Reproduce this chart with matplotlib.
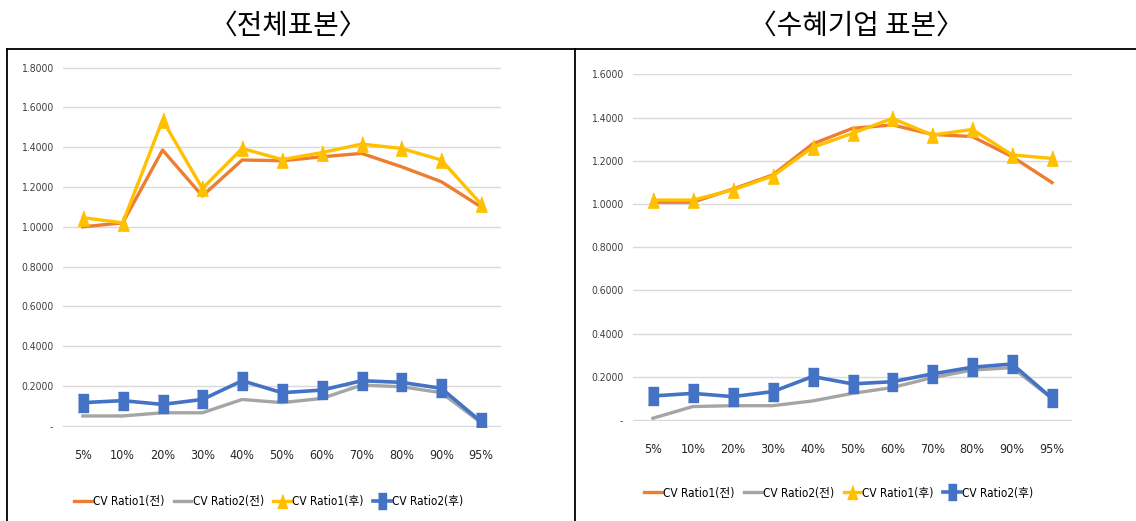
import numpy as np
import matplotlib
matplotlib.use("Agg")
import matplotlib.pyplot as plt
from matplotlib.lines import Line2D

# kategorie (percentyle) wspolne dla obu wykresow
categories = ["5%", "10%", "20%", "30%", "40%", "50%", "60%", "70%", "80%", "90%", "95%"]
series_names = ["CV Ratio1(전)", "CV Ratio2(전)", "CV Ratio1(후)", "CV Ratio2(후)"]

# <전체표본>
all_ratio1_before = [1.00, 1.02, 1.386, 1.155, 1.336, 1.332, 1.352, 1.369, 1.302, 1.227, 1.10]
all_ratio2_before = [0.049, 0.049, 0.065, 0.065, 0.132, 0.116, 0.137, 0.204, 0.196, 0.166, 0.015]
all_ratio1_after = [1.046, 1.02, 1.537, 1.193, 1.394, 1.338, 1.373, 1.416, 1.394, 1.336, 1.114]
all_ratio2_after = [0.116, 0.126, 0.107, 0.132, 0.226, 0.166, 0.179, 0.226, 0.218, 0.188, 0.02]

# <수혜기업 표본>
ben_ratio1_before = [1.008, 1.008, 1.069, 1.134, 1.278, 1.350, 1.366, 1.322, 1.312, 1.219, 1.099]
ben_ratio2_before = [0.008, 0.062, 0.066, 0.066, 0.088, 0.123, 0.150, 0.196, 0.231, 0.242, 0.10]
ben_ratio1_after = [1.018, 1.018, 1.065, 1.129, 1.262, 1.327, 1.396, 1.319, 1.345, 1.227, 1.211]
ben_ratio2_after = [0.111, 0.123, 0.108, 0.131, 0.201, 0.167, 0.177, 0.213, 0.244, 0.259, 0.100]

NARROW = ["DejaVu Sans"]
KOREAN = ["DejaVu Sans", "Noto Sans CJK KR"]

ORANGE = "#ED7D31"
GRAY = "#A5A5A5"
YELLOW = "#FFC000"
BLUE = "#4472C4"

# wysokie (rozciagniete) znaczniki jak w oryginalnym obrazku
tri = [(-0.72, -1.0), (0.72, -1.0), (0.0, 1.0)]
rect = [(-0.55, -1.0), (0.55, -1.0), (0.55, 1.0), (-0.55, 1.0)]


def draw_panel(fig, rect_ax, ymax, r1b, r2b, r1a, r2a, legend_y):
    '''
    rysuje jeden panel z czterema seriami i legenda pod spodem
    '''
    ax = fig.add_axes(rect_ax)
    x = np.arange(len(categories))
    ax.plot(x, r1b, color=ORANGE, lw=2.4, zorder=3)
    ax.plot(x, r2b, color=GRAY, lw=2.4, zorder=3)
    ax.plot(x, r1a, color=YELLOW, lw=2.4, marker=tri, markersize=11, zorder=4)
    ax.plot(x, r2a, color=BLUE, lw=2.6, marker=rect, markersize=12.5, zorder=4)

    ax.set_xlim(-0.5, len(categories) - 0.5)
    # maly zapas, zeby linia siatki przy zerze nie byla obcieta
    ax.set_ylim(-0.004, ymax + 0.004)
    ticks = np.arange(0, ymax + 0.001, 0.2)
    ax.set_yticks(ticks)
    ax.set_yticklabels(["-"] + ["%.4f" % t for t in ticks[1:]])
    ax.set_xticks(x)
    ax.set_xticklabels(categories)
    for lab in ax.get_yticklabels():
        lab.set_family(NARROW)
        lab.set_stretch("condensed")
        lab.set_fontsize(7.5)
        lab.set_color("#404040")
    for lab in ax.get_xticklabels():
        lab.set_family(NARROW)
        lab.set_stretch("condensed")
        lab.set_fontsize(9)
        lab.set_color("#262626")
    ax.tick_params(axis="both", length=0)
    ax.tick_params(axis="y", pad=7)
    ax.tick_params(axis="x", pad=16)
    ax.grid(axis="y", color="#D9D9D9", lw=1.0)
    ax.set_axisbelow(True)
    for s in ax.spines.values():
        s.set_visible(False)

    handles = [
        Line2D([], [], color=ORANGE, lw=2.4),
        Line2D([], [], color=GRAY, lw=2.4),
        Line2D([], [], color=YELLOW, lw=2.4, marker=tri, markersize=10),
        Line2D([], [], color=BLUE, lw=2.6, marker=rect, markersize=11),
    ]
    cx = rect_ax[0] + rect_ax[2] / 2
    fig.legend(handles, series_names, loc="center", bbox_to_anchor=(cx - 0.012, legend_y),
               ncol=4, frameon=False, handlelength=1.5, handletextpad=0.1,
               columnspacing=0.8,
               prop={"family": KOREAN, "size": 8.5, "stretch": "condensed"})
    return ax


fig = plt.figure(figsize=(11.36, 5.21), dpi=100)
W, H = 1136.0, 521.0

draw_panel(fig, [63 / W, 1 - 426.5 / H, 438 / W, 359.6 / H], 1.8,
           all_ratio1_before, all_ratio2_before, all_ratio1_after, all_ratio2_after,
           1 - 502 / H)
draw_panel(fig, [633 / W, 1 - 420.8 / H, 439 / W, 347.3 / H], 1.6,
           ben_ratio1_before, ben_ratio2_before, ben_ratio1_after, ben_ratio2_after,
           1 - 493 / H)

# tytuly nad ramkami
fig.text(288 / W, 1 - 26 / H, "〈전체표본〉", ha="center", va="center",
         family=["Noto Sans CJK KR", "DejaVu Sans"], fontsize=20)
fig.text(856 / W, 1 - 26 / H, "〈수혜기업 표본〉", ha="center", va="center",
         family=["Noto Sans CJK KR", "DejaVu Sans"], fontsize=20)

# ramki paneli
frame = dict(color="black", lw=1.3, transform=fig.transFigure, clip_on=False)
fig.add_artist(Line2D([7 / W, 1.0], [1 - 49 / H, 1 - 49 / H], **frame))
fig.add_artist(Line2D([7 / W, 7 / W], [0, 1 - 49 / H], **frame))
fig.add_artist(Line2D([575 / W, 575 / W], [0, 1 - 49 / H], **frame))

fig.savefig("out.png", dpi=100)
